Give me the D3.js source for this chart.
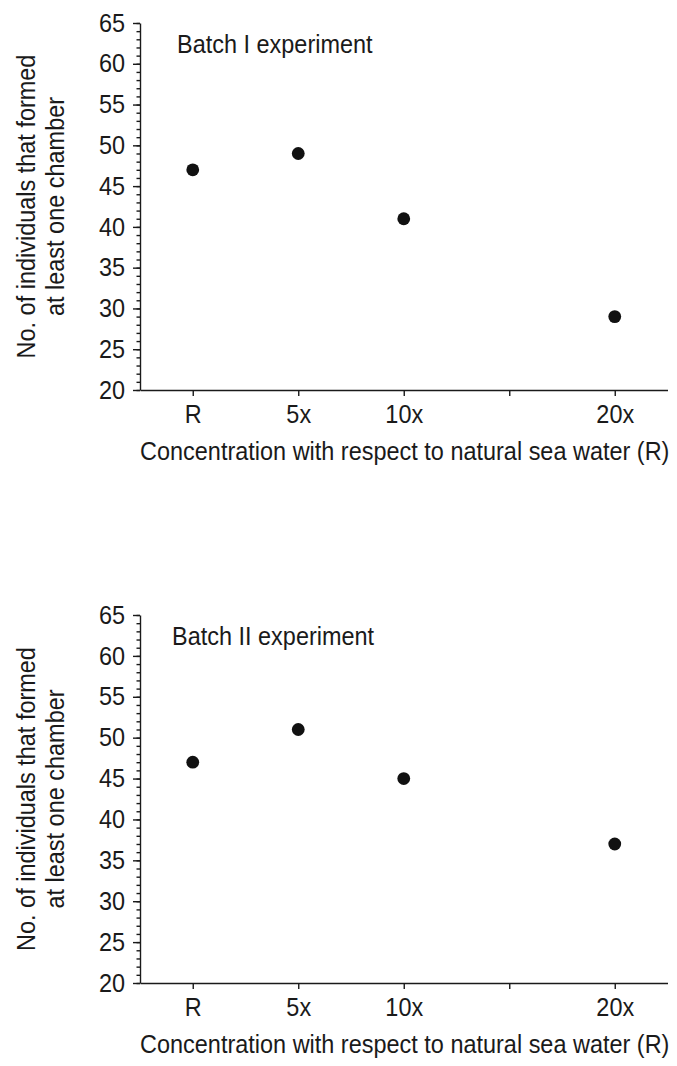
<!DOCTYPE html>
<html>
<head>
<meta charset="utf-8">
<script src="https://cdn.jsdelivr.net/npm/d3@7"></script>
<style>
    body { margin: 0; background: #fff; }
    svg text { font-family: "Liberation Sans", Arial, sans-serif; fill: #1a1a1a; }
</style>
</head>
<body>
<svg class="chart"></svg>
<script>
'use strict';

var CHART_WIDTH = 677;
var CHART_HEIGHT = 1066;
var FONT_SIZE = 25.5;
// the figure text is a little taller than wide, squeeze glyphs horizontally
var TEXT_SQUEEZE = 0.92;

// x categories (15x position has a tick but no label)
var categoryKeys = ["R", "5x", "10x", "15x", "20x"];
var categoryLabels = ["R", "5x", "10x", "", "20x"];
var pointCategories = ["R", "5x", "10x", "20x"];

// individuals that formed at least one chamber
var batch1Counts = [47, 49, 41, 29];
var batch2Counts = [47, 51, 45, 37];

var yMajorTicks = [20, 25, 30, 35, 40, 45, 50, 55, 60, 65];
var yDomain = [20, 65];

var yTitleLines = ["No. of individuals that formed", "at least one chamber"];
var xTitle = "Concentration with respect to natural sea water (R)";

var panels = [
    { label: "Batch I experiment", values: batch1Counts, top: 23, bottom: 390, labelX: 177 },
    { label: "Batch II experiment", values: batch2Counts, top: 615, bottom: 983, labelX: 172 }
];

var chart = d3.select(".chart")
    .attr("width", CHART_WIDTH)
    .attr("height", CHART_HEIGHT);

var xScale = d3.scalePoint()
    .domain(categoryKeys)
    .range([140, 667.5])
    .padding(0.5);

panels.forEach(function (panel) {
    renderPanel(chart, panel);
});

/**
 * Squeeze axis labels horizontally, keeping their anchor point
 * @param {Object} texts selection of text nodes
 */
function squeezeText(texts) {
    texts.each(function () {
        var x = +this.getAttribute("x") || 0;
        this.setAttribute("x", x / TEXT_SQUEEZE);
        this.setAttribute("transform", "scale(" + TEXT_SQUEEZE + ",1)");
    });
}

/**
 * Add a free text at a point
 */
function addText(g, x, y, rotate, anchor, str) {
    return g.append("text")
        .attr("transform", "translate(" + x + "," + y + ")" + (rotate ? " rotate(" + rotate + ")" : "") + " scale(" + TEXT_SQUEEZE + ",1)")
        .attr("text-anchor", anchor)
        .style("font-size", FONT_SIZE + "px")
        .text(str);
}

/**
 * Render one scatter panel
 * @param {Object} chart svg selection
 * @param {Object} panel panel settings and values
 */
function renderPanel(chart, panel) {
    var yScale = d3.scaleLinear()
        .domain(yDomain)
        .range([panel.bottom, panel.top]);

    var g = chart.append("g");

    // minor ticks every unit
    var minorAxis = d3.axisLeft(yScale)
        .tickValues(d3.range(yDomain[0], yDomain[1] + 1))
        .tickSize(3.5)
        .tickFormat("");
    g.append("g")
        .attr("transform", "translate(140,0)")
        .call(minorAxis)
        .call(function (s) { s.select(".domain").remove(); });

    var yAxis = d3.axisLeft(yScale)
        .tickValues(yMajorTicks)
        .tickSize(7)
        .tickSizeOuter(0)
        .tickPadding(8);
    g.append("g")
        .attr("class", "y axis")
        .attr("transform", "translate(140,0)")
        .call(yAxis);

    var xAxis = d3.axisBottom(xScale)
        .tickSize(6)
        .tickSizeOuter(0)
        .tickPadding(8.5)
        .tickFormat(function (d, i) { return categoryLabels[i]; });
    g.append("g")
        .attr("class", "x axis")
        .attr("transform", "translate(0," + panel.bottom + ")")
        .call(xAxis);

    g.selectAll(".axis text")
        .style("font-size", FONT_SIZE + "px")
        .style("font-family", "'Liberation Sans', Arial, sans-serif")
        .attr("fill", "#1a1a1a")
        .call(squeezeText);
    g.selectAll(".tick line, .domain")
        .attr("stroke", "#1a1a1a")
        .attr("stroke-width", 1.4);

    // points
    g.selectAll("circle")
        .data(panel.values)
        .enter()
        .append("circle")
        .attr("cx", function (d, i) { return xScale(pointCategories[i]); })
        .attr("cy", function (d) { return yScale(d); })
        .attr("r", 6.4)
        .attr("fill", "#111");

    // batch label
    addText(g, panel.labelX, panel.top + 30, 0, "start", panel.label);

    // x title
    addText(g, (140 + 667.5) / 2 + 1, panel.bottom + 70, 0, "middle", xTitle);

    // y title, two lines
    var midY = (panel.top + panel.bottom) / 2;
    [35, 64].forEach(function (bx, i) {
        addText(g, bx, midY, -90, "middle", yTitleLines[i]);
    });
}
</script>
</body>
</html>
